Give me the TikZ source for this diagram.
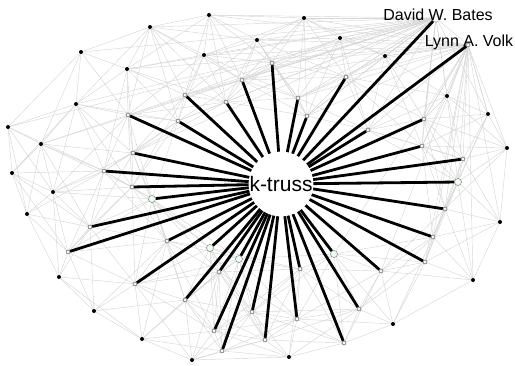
\documentclass[tikz,border=0pt]{standalone}
\usepackage{fontspec}
\setmainfont{Liberation Sans}
\pgfdeclarelayer{bg}
\pgfsetlayers{bg,main}
\tikzset{
  tw/.style={circle, draw=black!75, fill=green!6, inner sep=0pt, minimum size=4pt, line width=0.4pt},
  tg/.style={circle, draw=black!60, fill=green!6, inner sep=0pt, minimum size=7pt, line width=0.4pt},
  tb/.style={circle, fill=black, inner sep=0pt, minimum size=4pt},
  td/.style={circle, draw=black!40, fill=white, inner sep=0pt, minimum size=8pt, line width=0.4pt},
  edge/.style={draw=black!16, line width=0.45pt},
  trussline/.style={draw=black, line width=2.8pt},
  ktruss/.style={circle, fill=white, minimum size=64pt, inner sep=0pt, font=\fontsize{21}{21}\selectfont},
  namelabel/.style={anchor=base, inner sep=0pt, font=\fontsize{16}{16}\selectfont}
}
\def\allnodes{1/128/115/tw, 2/178/121/tw, 3/185/95/tw, 4/226/102/tw, 5/242/80/tw,
 6/272/63/tw, 7/298/98/tw, 8/307/116/tw, 9/346/77/tw, 10/436/18/td, 11/468/45/tw,
 12/424/119/tw, 13/368/130/tw, 14/422/146/tw, 15/463/159/tw, 16/458/182/tg,
 17/445/209/tw, 18/433/237/tw, 19/425/262/tw, 20/381/271/tw, 21/359/309/tw,
 22/344/343/tw, 23/334/254/tg, 24/300/269/tw, 25/297/319/tw, 26/265/340/tw,
 27/252/312/tw, 28/239/259/tg, 29/222/351/tw, 30/214/331/tw, 31/219/272/tw,
 32/210/248/tg, 33/185/300/tw, 34/167/241/tw, 35/135/284/tw, 36/68/252/tw,
 37/90/227/tw, 38/152/199/tg, 39/132/187/tw, 40/104/171/tw, 41/133/153/tw,
 42/150/27/tb, 43/81/52/tb, 44/127/69/tb, 45/76/104/tb, 46/209/15/tb, 47/304/18/tb,
 48/257/40/tb, 49/204/55/tb, 50/340/38/tb, 51/385/56/tb, 52/447/96/tb, 53/488/114/tb,
 54/507/148/tb, 55/500/222/tb, 56/473/280/tb, 57/393/324/tb, 58/289/357/tb,
 59/192/360/tb, 60/142/339/tb, 61/94/311/tb, 62/59/277/tb, 63/27/214/tb,
 64/53/192/tb, 65/12/173/tb, 66/41/144/tb, 67/8/127/tb}
\begin{document}
\begin{tikzpicture}[x=1pt, y=-1pt]
\useasboundingbox (0,0) rectangle (515,365);
% nodes
\foreach \i/\xa/\ya/\ka in \allnodes {
  \node[\ka] (n\i) at (\xa,\ya) {};
}
\node[ktruss] (kt) at (281,184) {k-truss};
\node[namelabel] (lbates) at (438,20) {David W. Bates};
\node[namelabel] (lvolk) at (469,46) {Lynn A. Volk};
\begin{pgfonlayer}{bg}
% grey network edges between nearby nodes
\foreach \i/\xa/\ya/\ka in \allnodes {
  \foreach \j/\xb/\yb/\kb in \allnodes {
    \ifnum\i<\j
      \pgfmathsetmacro\dd{veclen(\xb-\xa,\yb-\ya)}
      \ifdim\dd pt<108pt
        \draw[edge] (n\i) -- (n\j);
      \fi
    \fi
  }
}
% hub edges of the two named authors
\foreach \t in {42,43,44,45,46,47,48,49,50,51,52,53,1,3,4,5,6,7,8,9,12,13,14,66,67,2,41} {
  \draw[edge] (n10) -- (n\t);
}
\foreach \t in {44,46,47,48,49,50,51,52,53,54,5,6,7,8,9,12,13,14,15,16,17,18,19,55,56,20,23} {
  \draw[edge] (n11) -- (n\t);
}
% truss edges
\foreach \i in {1,...,41} {
  \draw[trussline] (kt.center) -- (n\i);
}
\end{pgfonlayer}
\end{tikzpicture}
\end{document}
